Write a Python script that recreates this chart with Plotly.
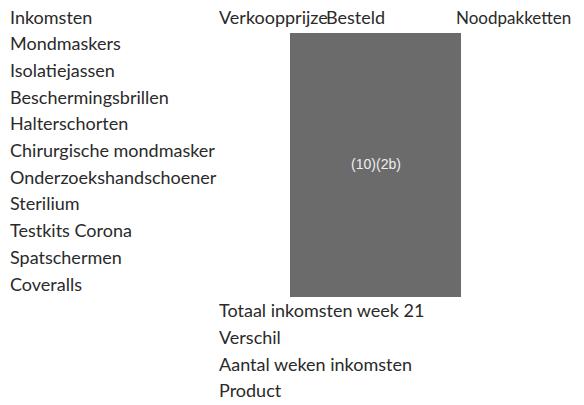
import plotly.graph_objects as go

# ---- data ----
row_labels = ["Inkomsten", "Mondmaskers", "Isolatiejassen", "Beschermingsbrillen",
              "Halterschorten", "Chirurgische mondmasker", "Onderzoekshandschoener",
              "Sterilium", "Testkits Corona", "Spatschermen", "Coveralls"]
header_labels = ["Verkoopprijze", "Besteld", "Noodpakketten"]
footer_labels = ["Totaal inkomsten week 21", "Verschil", "Aantal weken inkomsten", "Product"]
redaction_label = "(10)(2b)"

# ---- layout constants (screen pixels; page body has an 8px margin) ----
W, H = 584, 405
OFF = 8
ROW_PX = 26.67
ROW0_PX = 19.3        # screen y of row 0 centre
label_x = 10
header_x = [219, 326, 456]
header_size = [18, 18, 17]
footer_x = 219
rect_x = (290, 461)
rect_y_px = (33, 297)
red_xy_px = (376, 165)


def row_of(px):
    return (px - ROW0_PX) / ROW_PX


font = dict(family="Lato", size=18, color="#2a2a2a")

fig = go.Figure()

fig.add_trace(go.Scatter(
    x=[label_x] * len(row_labels), y=list(range(len(row_labels))),
    mode="text", text=row_labels, textposition="middle right",
    textfont=font, hoverinfo="skip", showlegend=False, cliponaxis=False))

fig.add_trace(go.Scatter(
    x=header_x, y=[0] * len(header_labels),
    mode="text", text=header_labels, textposition="middle right",
    textfont=dict(family="Lato", size=header_size, color="#2a2a2a"),
    hoverinfo="skip", showlegend=False, cliponaxis=False))

n0 = len(row_labels)
fig.add_trace(go.Scatter(
    x=[footer_x] * len(footer_labels), y=[n0 + i for i in range(len(footer_labels))],
    mode="text", text=footer_labels, textposition="middle right",
    textfont=font, hoverinfo="skip", showlegend=False, cliponaxis=False))

fig.add_shape(type="rect", x0=rect_x[0], x1=rect_x[1],
              y0=row_of(rect_y_px[0]), y1=row_of(rect_y_px[1]),
              fillcolor="#6b6b6b", line=dict(width=0), layer="below")
fig.add_trace(go.Scatter(
    x=[red_xy_px[0]], y=[row_of(red_xy_px[1])],
    mode="text", text=[redaction_label], textposition="middle center",
    textfont=dict(family="Liberation Sans", size=14, color="#eeeeee"),
    hoverinfo="skip", showlegend=False, cliponaxis=False))

fig.update_layout(
    width=W, height=H, margin=dict(l=0, r=0, t=0, b=0),
    paper_bgcolor="white", plot_bgcolor="white",
    xaxis=dict(range=[OFF, W + OFF], visible=False, fixedrange=True),
    yaxis=dict(range=[row_of(H + OFF), row_of(OFF)], visible=False, fixedrange=True),
)
fig.write_html("out.html")
